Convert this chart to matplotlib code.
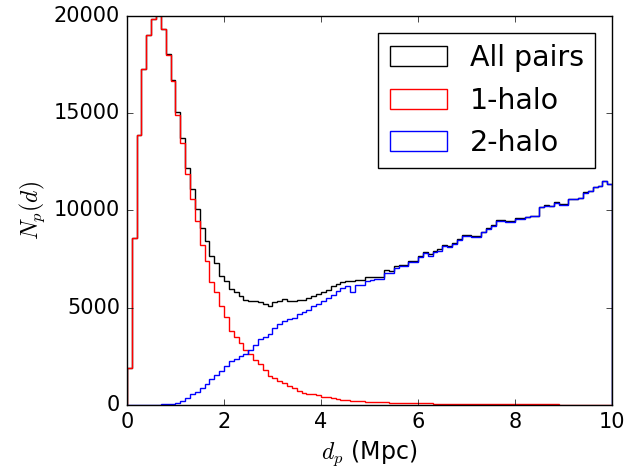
import numpy as np
import matplotlib
matplotlib.use('Agg')
import matplotlib.pyplot as plt

# Pair counts per 0.1 Mpc bin (0 - 10 Mpc, 100 bins)
bin_edges = np.linspace(0, 10, 101)

all_pairs = [
    1900, 8590, 13900, 17250, 19040, 19850, 20050, 19350, 18040, 16700,
    15050, 13700, 12170, 11100, 10080, 9100, 8410, 7670, 7300, 6640,
    6350, 5950, 5780, 5600, 5380, 5320, 5350, 5300, 5200, 5060,
    5290, 5350, 5440, 5360, 5320, 5380, 5400, 5470, 5610, 5700,
    5820, 5920, 6090, 6210, 6300, 6350, 6380, 6440, 6440, 6600,
    6600, 6600, 6600, 6950, 6900, 7120, 7200, 7200, 7410, 7410,
    7630, 7880, 7760, 7930, 8020, 8220, 8160, 8330, 8550, 8720,
    8750, 8670, 8660, 8910, 9090, 9260, 9500, 9500, 9450, 9450,
    9590, 9590, 9680, 9730, 9730, 10180, 10270, 10240, 10410, 10310,
    10310, 10580, 10610, 10660, 10920, 11010, 11200, 11260, 11510, 11380,
]

one_halo = [
    1900, 8590, 13900, 17250, 19040, 19850, 20050, 19330, 18000, 16630,
    14900, 13450, 11850, 10580, 9470, 8240, 7410, 6300, 5780, 5100,
    4500, 3800, 3500, 3200, 2830, 2600, 2310, 2090, 1780, 1490,
    1400, 1230, 1110, 970, 850, 710, 630, 580, 540, 490,
    420, 380, 340, 300, 270, 250, 220, 200, 180, 160,
    150, 140, 130, 125, 120, 110, 105, 100, 95, 90,
    85, 80, 75, 70, 68, 65, 60, 58, 55, 52,
    50, 48, 45, 43, 40, 38, 36, 35, 33, 31,
    30, 28, 27, 26, 25, 24, 22, 21, 20, 19,
    18, 18, 17, 16, 15, 15, 14, 13, 13, 12,
]

two_halo = [
    0, 0, 0, 0, 0, 0, 0, 20, 40, 70,
    110, 200, 370, 540, 680, 890, 1060, 1320, 1520, 1740,
    2000, 2260, 2350, 2490, 2600, 2830, 3070, 3380, 3510, 3630,
    3930, 4150, 4320, 4410, 4490, 4660, 4750, 4890, 5090, 5180,
    5350, 5470, 5640, 5830, 5990, 6130, 5780, 6180, 6180, 6380,
    6430, 6470, 6450, 6780, 6780, 7020, 7120, 7120, 7360, 7360,
    7590, 7810, 7670, 7880, 7930, 8150, 8100, 8270, 8490, 8670,
    8700, 8620, 8620, 8870, 9050, 9220, 9470, 9470, 9420, 9420,
    9560, 9560, 9650, 9700, 9700, 10160, 10250, 10220, 10390, 10290,
    10290, 10560, 10590, 10640, 10900, 10990, 11190, 11250, 11500, 11370,
]

series = [
    (all_pairs, 'k', 'All pairs'),
    (one_halo, 'r', '1-halo'),
    (two_halo, 'b', '2-halo'),
]

# old-school matplotlib look
plt.style.use('classic')
plt.rcParams['mathtext.fontset'] = 'cm'

fig = plt.figure(figsize=(6.41, 4.67), dpi=100, facecolor='white')
ax = fig.add_axes([0.198, 0.133, 0.757, 0.833])

bin_centers = 0.5 * (bin_edges[:-1] + bin_edges[1:])
for counts, color, label in series:
    ax.hist(bin_centers, bins=bin_edges, weights=counts, histtype='step',
            color=color, label=label, linewidth=1.0)

ax.set_xlim(0, 10)
ax.set_ylim(0, 20000)
ax.set_xticks([0, 2, 4, 6, 8, 10])
ax.set_yticks([0, 5000, 10000, 15000, 20000])
ax.tick_params(labelsize=15, pad=5)

ax.set_xlabel(r'$d_p$ (Mpc)', fontsize=17)
ax.set_ylabel(r'$N_p(d)$', fontsize=17)

ax.legend(loc='upper right', fontsize=20.5, labelspacing=0.5,
          borderaxespad=0.6)

fig.savefig('out.png', dpi=100, facecolor='white')
